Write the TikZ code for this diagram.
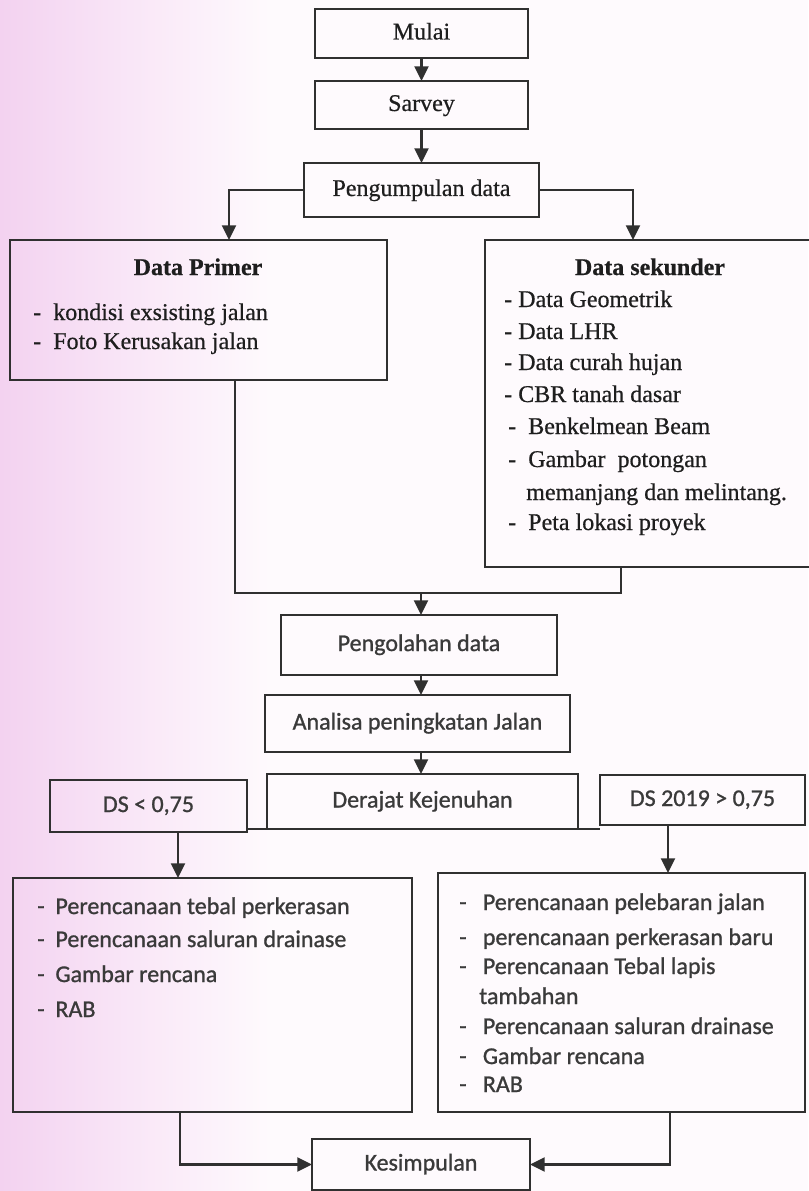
\documentclass[tikz,border=0pt]{standalone}
\usepackage{fontspec}
\setmainfont{Liberation Serif}[FakeBold=0.6]
\newfontfamily\carl{Carlito}[FakeBold=1.0]
\usetikzlibrary{arrows.meta}
\definecolor{ink}{HTML}{303030}
\definecolor{txt}{HTML}{1E1E1E}
\definecolor{stxt}{HTML}{3A3A3A}
\definecolor{pk}{HTML}{F3D2F0}
\definecolor{pkm}{HTML}{F9E6F7}
\definecolor{bg}{HTML}{FEFAFD}
\begin{document}
\begin{tikzpicture}[x=0.75pt,y=-0.75pt,
  wh/.style 2 args={minimum width=#1*0.75pt, minimum height=#2*0.75pt},
  box/.style={draw=ink, line width=2.2pt, inner sep=0pt, outer sep=0pt, text=txt,
    font=\fontsize{18}{22}\selectfont, text height=12.5pt, text depth=3.5pt},
  sbox/.style={box, text=stxt, font=\carl\fontsize{18}{22}\selectfont},
  wire/.style={draw=ink, line width=1.6pt},
  arr/.style={wire, -{Triangle[length=11pt,width=10.5pt]}},
  ser/.style={text=txt, font=\fontsize{18}{22}\selectfont, inner sep=0pt, anchor=base west},
  sert/.style={text=txt, font=\fontsize{18}{22}\selectfont\bfseries, inner sep=0pt, anchor=base},
  san/.style={text=stxt, font=\carl\fontsize{18}{22}\selectfont, inner sep=0pt, anchor=base west},
]
\fill[bg] (0,0) rectangle (808,1191);
\shade[left color=pk, right color=pkm] (0,0) rectangle (130,1191);
\shade[left color=pkm, right color=bg] (130,0) rectangle (270,1191);
\useasboundingbox (0,0) rectangle (808,1191);

% top part
\node[box, wh={213}{49}] (mulai) at (421.5,33.5) {Mulai};
\node[box, wh={213}{48}] (sarvey) at (421.5,105) {Sarvey};
\node[box, wh={235}{54}] (peng) at (421.5,190) {Pengumpulan data};
\node[box, wh={377}{140}] (primer) at (198.5,310) {};
\node[box, wh={327}{327}] (sek) at (648.5,403.5) {};

\node[sert] (tprim) at (198,275) {Data Primer};
\node[ser] (p1) at (33,320) {-\ \ kondisi exsisting jalan};
\node[ser] (p2) at (33,349) {-\ \ Foto Kerusakan jalan};

\node[sert] (tsek) at (650,275) {Data sekunder};
\node[ser] (s1) at (504,307) {- Data Geometrik};
\node[ser] (s2) at (504,339) {- Data LHR};
\node[ser] (s3) at (504,370) {- Data curah hujan};
\node[ser] (s4) at (504,402) {- CBR tanah dasar};
\node[ser] (s5) at (508,434) {-\ \ Benkelmean Beam};
\node[ser] (s6) at (508,467) {-\ \ Gambar\ \ potongan};
\node[ser] (s7) at (526,500) {memanjang dan melintang.};
\node[ser] (s8) at (508,530) {-\ \ Peta lokasi proyek};

% middle
\node[sbox, wh={276}{60}] (olah) at (419,645) {Pengolahan data};
\node[sbox, wh={305}{57}] (anal) at (417.5,723.5) {Analisa peningkatan Jalan};
\node[sbox, wh={311}{55}] (der) at (422.5,801.5) {Derajat Kejenuhan};
\node[sbox, wh={197}{52}] (dsl) at (148.5,806) {DS < 0,75};
\node[sbox, wh={205}{50}] (dsr) at (702.5,800) {DS 2019 > 0,75};

% bottom boxes
\node[sbox, wh={399}{234}] (lb) at (212.5,995) {};
\node[sbox, wh={367}{239}] (rb) at (621.5,992.5) {};
\node[sbox, wh={218}{51}] (kes) at (421,1164.5) {Kesimpulan};

\node[san] (l1) at (37,914) {-\ \ Perencanaan tebal perkerasan};
\node[san] (l2) at (37,947) {-\ \ Perencanaan saluran drainase};
\node[san] (l3) at (37,982) {-\ \ Gambar rencana};
\node[san] (l4) at (37,1017) {-\ \ RAB};

\node[san] (r1) at (459,910) {-\ \ \ Perencanaan pelebaran jalan};
\node[san] (r2) at (459,945) {-\ \ \ perencanaan perkerasan baru};
\node[san] (r3) at (459,974) {-\ \ \ Perencanaan Tebal lapis};
\node[san] (r4) at (479,1004) {tambahan};
\node[san] (r5) at (459,1034) {-\ \ \ Perencanaan saluran drainase};
\node[san] (r6) at (459,1064) {-\ \ \ Gambar rencana};
\node[san] (r7) at (459,1092) {-\ \ \ RAB};

% helper coordinates
\coordinate (pl) at (229,0);
\coordinate (pr) at (633,0);
\coordinate (ml) at (235,0);
\coordinate (mr) at (621,0);
\coordinate (mc) at (421,593);
\coordinate (al) at (178,0);
\coordinate (ar) at (668,0);
\coordinate (bl) at (180,0);
\coordinate (br) at (670,0);

% connectors
\draw[arr] (mulai.south -| 421.5,0) -- (sarvey.north -| 421.5,0);
\draw[arr] (sarvey.south -| 421.5,0) -- (peng.north -| 421.5,0);
\draw[arr] (peng.west) -| (primer.north -| pl);
\draw[arr] (peng.east) -| (sek.north -| pr);
\draw[wire] (primer.south -| ml) |- (mc) -| (sek.south -| mr);
\draw[arr] (mc) -- (mc |- olah.north);
\draw[arr] (olah.south -| mc) -- (anal.north -| mc);
\draw[arr] (anal.south -| mc) -- (der.north -| mc);
\draw[wire] (der.south west) -- (der.south west -| dsl.east);
\draw[wire] (der.south east) -- (der.south east -| dsr.west);
\draw[arr] (dsl.south -| al) -- (lb.north -| al);
\draw[arr] (dsr.south -| ar) -- (rb.north -| ar);
\draw[arr] (lb.south -| bl) |- (kes.west);
\draw[arr] (rb.south -| br) |- (kes.east);
\end{tikzpicture}
\end{document}
